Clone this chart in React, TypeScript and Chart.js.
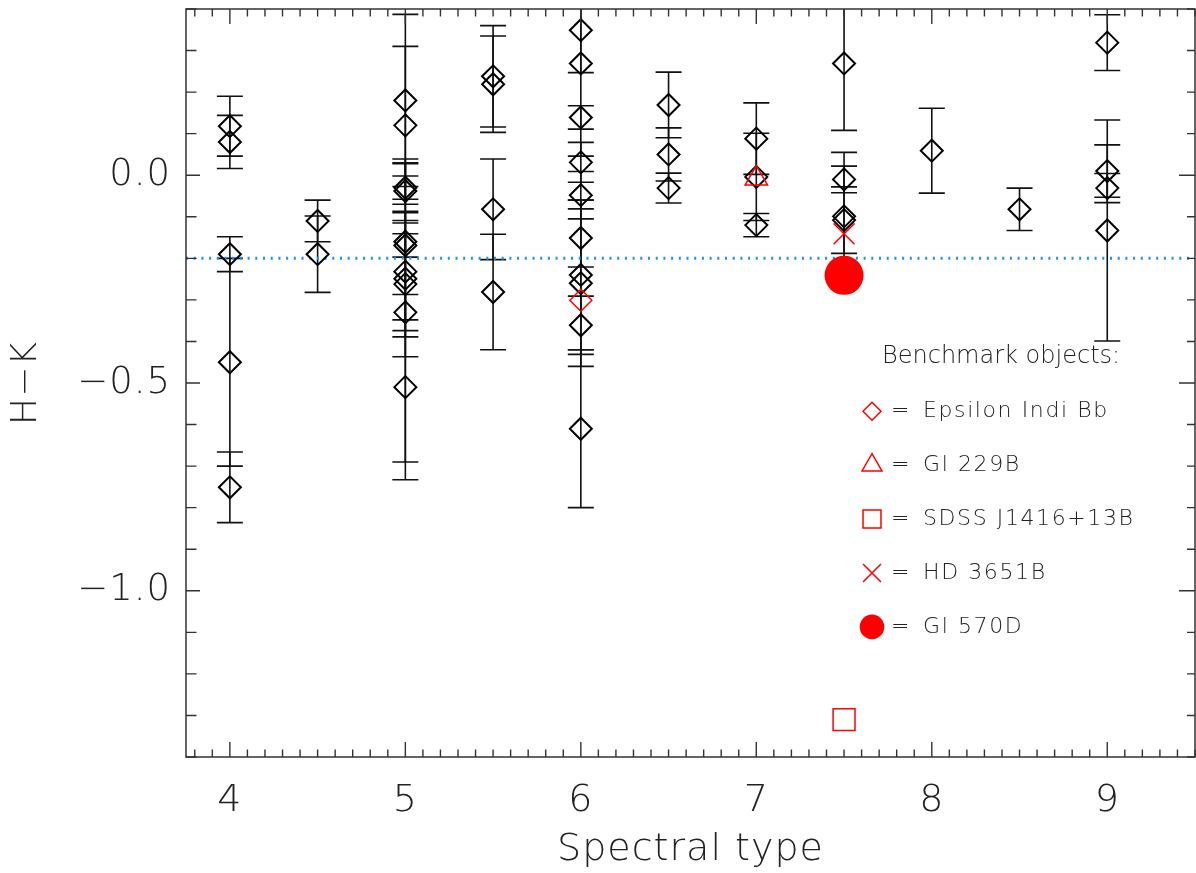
import React, { useEffect, useRef } from 'react';
import { Chart, registerables } from 'chart.js';
import * as helpers from 'chart.js/helpers';

Chart.register(...registerables);

// ---------- data ----------
// Main sample: spectral type, H-K colour and its uncertainty
const spectralTypes = [
  4, 4, 4, 4, 4,
  4.5, 4.5,
  5, 5, 5, 5, 5, 5, 5, 5, 5, 5, 5,
  5.5, 5.5, 5.5, 5.5,
  6, 6, 6, 6, 6, 6, 6, 6, 6, 6,
  6.5, 6.5, 6.5,
  7, 7, 7,
  7.5, 7.5, 7.5, 7.5,
  8,
  8.5,
  9, 9, 9, 9,
];
const hkColors = [
  0.118, 0.080, -0.190, -0.450, -0.751,
  -0.110, -0.190,
  0.180, 0.120, -0.030, -0.038, -0.160, -0.169, -0.232, -0.249, -0.262, -0.330, -0.510,
  0.238, 0.219, -0.082, -0.281,
  0.349, 0.269, 0.139, 0.031, -0.048, -0.151, -0.240, -0.260, -0.361, -0.610,
  0.169, 0.050, -0.031,
  0.088, -0.004, -0.120,
  0.269, -0.010, -0.099, -0.108,
  0.059,
  -0.082,
  0.319, 0.010, -0.031, -0.133,
];
const hkErrors = [
  0.072, 0.064, 0.042, 0.250, 0.085,
  0.050, 0.092,
  0.207, 0.190, 0.028, 0.077, 0.188, 0.028, 0.142, 0.140, 0.175, 0.360, 0.223,
  0.122, 0.116, 0.121, 0.139,
  0.102, 0.223, 0.028, 0.048, 0.057, 0.070, 0.180, 0.200, 0.070, 0.190,
  0.079, 0.064, 0.036,
  0.086, 0.105, 0.028,
  0.161, 0.032, 0.154, 0.080,
  0.102,
  0.051,
  0.067, 0.063, 0.035, 0.266,
];

// Benchmark objects
const benchNames = ['Epsilon Indi Bb', 'Gl 229B', 'SDSS J1416+13B', 'HD 3651B', 'Gl 570D'];
const benchSpT = [6, 7, 7.5, 7.5, 7.5];
const benchHK = [-0.301, -0.008, -1.31, -0.141, -0.241];

// Reference line
const refLineHK = -0.2;

// Axes
const xRange = [3.75, 9.5];
const yRange = [-1.4, 0.4];
const xTickValues = [4, 5, 6, 7, 8, 9];
const xTickLabels = ['4', '5', '6', '7', '8', '9'];
const yTickValues = [0, -0.5, -1.0];
const yTickLabels = ['0.0', '\u22120.5', '\u22121.0'];
const xAxisTitle = 'Spectral type';
const yAxisTitle = 'H\u2212K';
const legendTitle = 'Benchmark objects:';

// ---------- styles ----------
const FONT = "'DejaVu Sans', 'Liberation Sans', sans-serif";
const TEXT_COLOR = '#222';
const RED = '#ff0000';
const benchStyles = [
  { pointStyle: 'rectRot', radius: 11, legendRadius: 9, fill: false, lw: 1.5 },
  { pointStyle: 'triangle', radius: 13, legendRadius: 11.5, fill: false, lw: 1.5 },
  { pointStyle: 'rect', radius: 15.5, legendRadius: 12.7, fill: false, lw: 1.5 },
  { pointStyle: 'crossRot', radius: 14.8, legendRadius: 12.7, fill: false, lw: 1.5 },
  { pointStyle: 'circle', radius: 19.5, legendRadius: 12.3, fill: true, lw: 0 },
];

const zeroPadding = (scale: any) => {
  scale.paddingTop = 0;
  scale.paddingBottom = 0;
  scale.paddingLeft = 0;
  scale.paddingRight = 0;
};

const spacingPlugin = {
  id: 'letterSpacing',
  beforeDraw(chart: any) {
    (chart.ctx as any).letterSpacing = '1px';
  },
};

const errorBarPlugin = {
  id: 'errorBars',
  beforeDatasetsDraw(chart: any) {
    const { ctx, chartArea, scales } = chart;
    const xs = scales.x;
    const ys = scales.y;
    const capHalf = 13;
    ctx.save();
    ctx.beginPath();
    ctx.rect(chartArea.left, chartArea.top, chartArea.right - chartArea.left, chartArea.bottom - chartArea.top);
    ctx.clip();
    ctx.strokeStyle = '#111';
    ctx.lineWidth = 1.6;
    spectralTypes.forEach((st, i) => {
      const px = xs.getPixelForValue(st);
      const yHi = ys.getPixelForValue(hkColors[i] + hkErrors[i]);
      const yLo = ys.getPixelForValue(hkColors[i] - hkErrors[i]);
      ctx.beginPath();
      ctx.moveTo(px, yHi);
      ctx.lineTo(px, yLo);
      ctx.moveTo(px - capHalf, yHi);
      ctx.lineTo(px + capHalf, yHi);
      ctx.moveTo(px - capHalf, yLo);
      ctx.lineTo(px + capHalf, yLo);
      ctx.stroke();
    });
    ctx.restore();
  },
};

const framePlugin = {
  id: 'frame',
  afterDraw(chart: any) {
    const { ctx, chartArea, scales } = chart;
    const xs = scales.x;
    const ys = scales.y;
    const { left, right, top, bottom } = chartArea;
    ctx.save();
    ctx.strokeStyle = '#333';
    ctx.lineWidth = 1.4;
    ctx.beginPath();
    for (let k = Math.ceil(xRange[0] * 10); k <= Math.floor(xRange[1] * 10); k++) {
      const major = k % 10 === 0;
      const px = xs.getPixelForValue(k / 10);
      const len = major ? 15 : 7.5;
      ctx.moveTo(px, bottom);
      ctx.lineTo(px, bottom - len);
      ctx.moveTo(px, top);
      ctx.lineTo(px, top + len);
    }
    for (let k = Math.ceil(yRange[0] * 10); k <= Math.floor(yRange[1] * 10); k++) {
      const major = k % 5 === 0;
      const py = ys.getPixelForValue(k / 10);
      ctx.moveTo(left, py);
      ctx.lineTo(left + (major ? 14 : 10.5), py);
      ctx.moveTo(right, py);
      ctx.lineTo(right - (major ? 16 : 8), py);
    }
    ctx.stroke();
    ctx.lineWidth = 1.5;
    ctx.strokeRect(left, top, right - left, bottom - top);
    ctx.restore();
  },
};

const legendPlugin = {
  id: 'benchLegend',
  afterDraw(chart: any) {
    const { ctx } = chart;
    ctx.save();
    ctx.fillStyle = TEXT_COLOR;
    ctx.textAlign = 'left';
    ctx.textBaseline = 'alphabetic';
    (ctx as any).letterSpacing = '0px';
    ctx.font = `200 24px ${FONT}`;
    ctx.fillText(legendTitle, 882, 363);
    const baseline0 = 417;
    const step = 53.9;
    benchNames.forEach((name, i) => {
      const base = baseline0 + i * step;
      const st = benchStyles[i];
      ctx.save();
      ctx.strokeStyle = RED;
      ctx.fillStyle = st.fill ? RED : 'rgba(0,0,0,0)';
      ctx.lineWidth = st.lw || 1;
      helpers.drawPoint(ctx, { pointStyle: st.pointStyle, radius: st.legendRadius, borderWidth: st.lw, rotation: 0 }, 872, base - 5.7);
      ctx.restore();
      ctx.font = `200 22px ${FONT}`;
      ctx.fillStyle = TEXT_COLOR;
      (ctx as any).letterSpacing = '0px';
      ctx.fillText('=', 891, base);
      (ctx as any).letterSpacing = '1.6px';
      ctx.fillText(name, 923, base);
      (ctx as any).letterSpacing = '0px';
    });
    ctx.restore();
  },
};

export default function App() {
  const canvasRef = useRef<HTMLCanvasElement | null>(null);

  useEffect(() => {
    if (!canvasRef.current) return;
    const mainData = spectralTypes.map((x, i) => ({ x, y: hkColors[i] }));
    const benchDatasets = benchNames.map((name, i) => {
      const st = benchStyles[i];
      return {
        label: name,
        data: [{ x: benchSpT[i], y: benchHK[i] }],
        pointStyle: st.pointStyle,
        pointRadius: st.radius,
        pointBorderWidth: st.lw,
        pointBorderColor: RED,
        pointBackgroundColor: st.fill ? RED : 'rgba(0,0,0,0)',
        borderColor: RED,
        backgroundColor: st.fill ? RED : 'rgba(0,0,0,0)',
        order: 0,
      };
    });
    const chart = new Chart(canvasRef.current, {
      type: 'scatter',
      data: {
        datasets: [
          ...benchDatasets,
          {
            label: 'sample',
            data: mainData,
            pointStyle: 'rectRot',
            pointRadius: 11,
            pointBorderWidth: 2,
            pointBorderColor: '#000',
            pointBackgroundColor: 'rgba(0,0,0,0)',
            borderColor: '#000',
            backgroundColor: 'rgba(0,0,0,0)',
            order: 1,
          },
          {
            label: 'reference',
            data: [
              { x: xRange[0], y: refLineHK },
              { x: xRange[1], y: refLineHK },
            ],
            showLine: true,
            borderColor: '#1e8fff',
            borderWidth: 3,
            borderDash: [2, 5.7],
            pointRadius: 0,
            order: 5,
          } as any,
        ],
      },
      options: {
        animation: false,
        responsive: true,
        maintainAspectRatio: false,
        layout: { autoPadding: false, padding: { top: 9, right: 1, left: 0, bottom: 0 } },
        plugins: {
          legend: { display: false },
          tooltip: { enabled: false },
        },
        scales: {
          x: {
            type: 'linear',
            min: xRange[0],
            max: xRange[1],
            grid: { display: false, drawTicks: false },
            border: { display: false },
            afterFit: (scale: any) => {
              scale.height = 116;
              zeroPadding(scale);
            },
            afterBuildTicks: (scale: any) => {
              scale.ticks = xTickValues.map((v) => ({ value: v }));
            },
            ticks: {
              autoSkip: false,
              maxRotation: 0,
              padding: 21,
              color: TEXT_COLOR,
              font: { family: FONT, size: 38, weight: '200' as any },
              callback: (_v: any, i: number) => xTickLabels[i],
            },
            title: {
              display: true,
              text: xAxisTitle,
              color: TEXT_COLOR,
              padding: { top: 0, bottom: 0 },
              font: { family: FONT, size: 38, weight: '200' as any },
            },
          },
          y: {
            type: 'linear',
            min: yRange[0],
            max: yRange[1],
            grid: { display: false, drawTicks: false },
            border: { display: false },
            afterFit: (scale: any) => {
              scale.width = 186;
              zeroPadding(scale);
            },
            afterBuildTicks: (scale: any) => {
              scale.ticks = yTickValues.map((v) => ({ value: v }));
            },
            ticks: {
              autoSkip: false,
              padding: 15,
              color: TEXT_COLOR,
              font: { family: FONT, size: 37, weight: '200' as any },
              callback: (_v: any, i: number) => yTickLabels[i],
            },
            title: {
              display: true,
              text: yAxisTitle,
              color: TEXT_COLOR,
              padding: { top: 5, bottom: 0 },
              font: { family: FONT, size: 36, weight: '200' as any },
            },
          },
        },
      },
      plugins: [spacingPlugin, errorBarPlugin, framePlugin, legendPlugin],
    } as any);
    return () => chart.destroy();
  }, []);

  return (
    <div style={{ position: 'absolute', left: 0, top: 0, width: 1196, height: 873, background: '#fff' }}>
      <canvas ref={canvasRef} />
    </div>
  );
}
